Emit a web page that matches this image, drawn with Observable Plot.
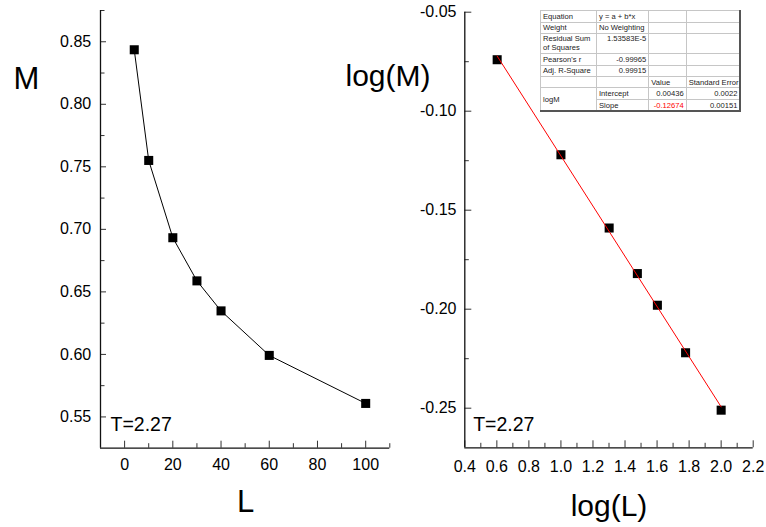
<!DOCTYPE html>
<html><head><meta charset="utf-8">
<script src="https://cdn.jsdelivr.net/npm/d3@7"></script>
<script src="https://cdn.jsdelivr.net/npm/@observablehq/plot@0.6"></script>
<style>
html,body{margin:0;padding:0;background:#fff;}
#wrap{position:relative;width:766px;height:527px;overflow:hidden;font-family:"Liberation Sans",Arial,Helvetica,sans-serif;}
#wrap svg{position:absolute;left:0;top:0;}
#fit{position:absolute;left:540px;top:10px;width:200px;border-collapse:collapse;table-layout:fixed;background:#fff;
  font-size:7.6px;line-height:9px;color:#222;border-top:1px solid #777;border-left:1px solid #777;border-right:2px solid #555;border-bottom:2px solid #555;}
#fit td{border:1px solid #c6c6c6;padding:0 2px;white-space:nowrap;overflow:hidden;vertical-align:middle;}
#fit td.r{text-align:right;}
#fit td.t{vertical-align:top;}
#fit td.red{color:#f00;}
</style></head><body><div id="wrap"></div>
<script>
// Left panel data: M versus L
const L = [4, 10, 20, 30, 40, 60, 100];
const M = [0.8436, 0.7551, 0.6933, 0.6588, 0.6348, 0.5992, 0.5608];
// Right panel data: log(M) versus log(L)
const logL = [0.602, 1.0, 1.301, 1.477, 1.602, 1.778, 2.0];
const logM = [-0.074, -0.122, -0.159, -0.182, -0.198, -0.222, -0.251];

// Tick values
const leftXTicks = [0, 20, 40, 60, 80, 100];
const leftXMinor = [10, 30, 50, 70, 90, 110];
const leftYTicks = [0.55, 0.60, 0.65, 0.70, 0.75, 0.80, 0.85];
const leftYMinor = [0.575, 0.625, 0.675, 0.725, 0.775, 0.825, 0.875];
const rightXTicks = [0.4, 0.6, 0.8, 1.0, 1.2, 1.4, 1.6, 1.8, 2.0, 2.2];
const rightXMinor = [0.5, 0.7, 0.9, 1.1, 1.3, 1.5, 1.7, 1.9, 2.1];
const rightYTicks = [-0.25, -0.20, -0.15, -0.10, -0.05];
const rightYMinor = [-0.225, -0.175, -0.125, -0.075];

// Labels
const tempLabel = "T=2.27";
const leftXLabel = "L", leftYLabel = "M";
const rightXLabel = "log(L)", rightYLabel = "log(M)";

// Fit table
const fitEquation = "y = a + b*x";
const fitWeight = "No Weighting";
const fitRSS = "1.53583E-5";
const fitPearson = "-0.99965";
const fitAdjR2 = "0.99915";
const fitDependent = "logM";
const fitParams = ["Intercept", "Slope"];
const fitValues = ["0.00436", "-0.12674"];
const fitErrors = ["0.0022", "0.00151"];

const FONT = '"Liberation Sans", Arial, Helvetica, sans-serif';
const W = 766, H = 527;
const wrap = document.getElementById("wrap");

const leftData = L.map((l, i) => ({L: l, M: M[i]}));
const rightData = logL.map((x, i) => ({x, y: logM[i]}));

// Left frame: x 100..389.3, y 10..447.7
const lm = {l: 100, r: W - 389.3, t: 10, b: H - 447.7};
const lFW = W - lm.l - lm.r, lFH = H - lm.t - lm.b;
const left = Plot.plot({
  width: W, height: H,
  marginLeft: lm.l, marginRight: lm.r, marginTop: lm.t, marginBottom: lm.b,
  style: {background: "transparent", fontFamily: FONT, overflow: "visible", color: "black"},
  x: {domain: [-10, 110]},
  y: {domain: [0.525, 0.875]},
  marks: [
    Plot.tickX(leftXTicks, {x: d => d, insetTop: lFH - 7, stroke: "#333"}),
    Plot.tickX(leftXMinor, {x: d => d, insetTop: lFH - 4.5, stroke: "#333"}),
    Plot.tickY(leftYTicks, {y: d => d, insetRight: lFW - 6, stroke: "#333"}),
    Plot.tickY(leftYMinor, {y: d => d, insetRight: lFW - 4.5, stroke: "#333"}),
    Plot.ruleX([-10], {stroke: "#111", strokeWidth: 1.3}),
    Plot.ruleY([0.525], {stroke: "#111", strokeWidth: 1.3}),
    Plot.axisX({ticks: leftXTicks, tickSize: 0, tickPadding: 10.5, fontSize: 16, tickFormat: d => String(d), label: null}),
    Plot.axisY({ticks: leftYTicks, tickSize: 0, tickPadding: 9.3, fontSize: 16, tickFormat: d => d.toFixed(2), label: null}),
    Plot.line(leftData, {x: "L", y: "M", stroke: "black", strokeWidth: 1}),
    Plot.dot(leftData, {x: "L", y: "M", symbol: "square", r: 5.1, fill: "black"}),
    Plot.text([tempLabel], {text: d => d, frameAnchor: "bottom-left", dx: 10, dy: -17, lineAnchor: "bottom", textAnchor: "start", fontSize: 19.5, fill: "black"}),
    Plot.text([leftYLabel], {text: d => d, frameAnchor: "top-left", dx: -74.2, dy: 78.3, lineAnchor: "bottom", textAnchor: "middle", fontSize: 31, fill: "black"}),
    Plot.text([leftXLabel], {text: d => d, frameAnchor: "bottom", dx: 0.5, dy: 64, lineAnchor: "bottom", textAnchor: "middle", fontSize: 31, fill: "black"})
  ]
});
wrap.appendChild(left);

// Right frame: x 464.3..752.7, y 11.7..447.3
const rm = {l: 464.3, r: W - 752.7, t: 11.7, b: H - 447.3};
const rFW = W - rm.l - rm.r, rFH = H - rm.t - rm.b;
const right = Plot.plot({
  width: W, height: H,
  marginLeft: rm.l, marginRight: rm.r, marginTop: rm.t, marginBottom: rm.b,
  style: {background: "transparent", fontFamily: FONT, overflow: "visible", color: "black"},
  x: {domain: [0.4, 2.2]},
  y: {domain: [-0.27, -0.05]},
  marks: [
    Plot.tickX(rightXTicks, {x: d => d, insetTop: rFH - 7, stroke: "#333"}),
    Plot.tickX(rightXMinor, {x: d => d, insetTop: rFH - 4.5, stroke: "#333"}),
    Plot.tickY(rightYTicks, {y: d => d, insetRight: rFW - 7, stroke: "#333"}),
    Plot.tickY(rightYMinor, {y: d => d, insetRight: rFW - 4.5, stroke: "#333"}),
    Plot.ruleX([0.4], {stroke: "#111", strokeWidth: 1.3}),
    Plot.ruleY([-0.27], {stroke: "#111", strokeWidth: 1.3}),
    Plot.axisX({ticks: rightXTicks, tickSize: 0, tickPadding: 13, fontSize: 16, tickFormat: d => d.toFixed(1), label: null}),
    Plot.axisY({ticks: rightYTicks, tickSize: 0, tickPadding: 8.3, fontSize: 16, tickFormat: d => d.toFixed(2), label: null}),
    Plot.dot(rightData, {x: "x", y: "y", symbol: "square", r: 5.1, fill: "black"}),
    Plot.linearRegressionY(rightData, {x: "x", y: "y", stroke: "#ff0000", strokeWidth: 1, ci: 0}),
    Plot.text([tempLabel], {text: d => d, frameAnchor: "bottom-left", dx: 8.4, dy: -17, lineAnchor: "bottom", textAnchor: "start", fontSize: 19.5, fill: "black"}),
    Plot.text([rightYLabel], {text: d => d, frameAnchor: "top-left", dx: -76.8, dy: 73.3, lineAnchor: "bottom", textAnchor: "middle", fontSize: 30, fill: "black"}),
    Plot.text([rightXLabel], {text: d => d, frameAnchor: "bottom", dx: 0, dy: 67.7, lineAnchor: "bottom", textAnchor: "middle", fontSize: 30, fill: "black"})
  ]
});
wrap.appendChild(right);

// Fit results table (overlay)
const tbl = document.createElement("table");
tbl.id = "fit";
tbl.innerHTML = `
<colgroup><col style="width:56px"><col style="width:52.3px"><col style="width:37.4px"><col style="width:54.3px"></colgroup>
<tr style="height:11.7px"><td>Equation</td><td>${fitEquation}</td><td></td><td></td></tr>
<tr style="height:11px"><td>Weight</td><td>${fitWeight}</td><td></td><td></td></tr>
<tr style="height:20.6px"><td class="t">Residual Sum<br>of Squares</td><td class="r t">${fitRSS}</td><td></td><td></td></tr>
<tr style="height:11.7px"><td>Pearson's r</td><td class="r">${fitPearson}</td><td></td><td></td></tr>
<tr style="height:11px"><td>Adj. R-Square</td><td class="r">${fitAdjR2}</td><td></td><td></td></tr>
<tr style="height:11.3px"><td></td><td></td><td>Value</td><td>Standard Error</td></tr>
<tr style="height:12px"><td rowspan="2">${fitDependent}</td><td>${fitParams[0]}</td><td class="r">${fitValues[0]}</td><td class="r">${fitErrors[0]}</td></tr>
<tr style="height:11.7px"><td>${fitParams[1]}</td><td class="r red">${fitValues[1]}</td><td class="r">${fitErrors[1]}</td></tr>`;
wrap.appendChild(tbl);
</script>
</body></html>
